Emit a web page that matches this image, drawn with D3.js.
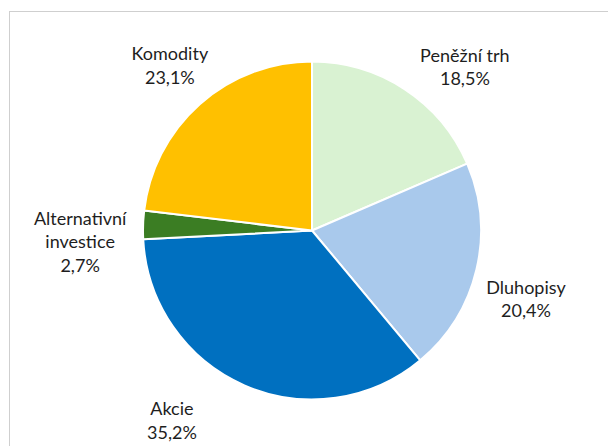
<!DOCTYPE html>
<html lang="cs">
<head>
<meta charset="UTF-8">
<title>Pie</title>
<style>
  body { margin: 0; background: #fff; }
  svg { display: block; }
</style>
</head>
<body>
<script src="https://d3js.org/d3.v7.min.js"></script>
<script>
// Data
let categories = ["Peněžní trh", "Dluhopisy", "Akcie", "Alternativní investice", "Komodity"];
let shares = [18.5, 20.4, 35.2, 2.7, 23.1];
let colors = ["#d9f2d2", "#a9c9ec", "#0070c0", "#3b7d23", "#ffc000"];
// how each label is broken into lines
let labelLines = [["Peněžní trh"], ["Dluhopisy"], ["Akcie"], ["Alternativní", "investice"], ["Komodity"]];

let width = 608, height = 446;
let cx = 312, cy = 230.5, radius = 169;

let svg = d3.select("body").append("svg")
  .attr("width", width)
  .attr("height", height);

// chart frame (cut by the window on right and bottom)
svg.append("rect")
  .attr("x", 9.5).attr("y", 11.5)
  .attr("width", 620).attr("height", 460)
  .attr("fill", "none")
  .attr("stroke", "#cfcfcf")
  .attr("stroke-width", 1);

let data = categories.map((c, i) => ({ name: c, value: shares[i], color: colors[i], lines: labelLines[i] }));

let pie = d3.pie().sort(null).value(d => d.value);
let arc = d3.arc().innerRadius(0).outerRadius(radius);
let labelArc = d3.arc().innerRadius(220).outerRadius(220);

let g = svg.append("g").attr("transform", `translate(${cx},${cy})`);

let arcs = pie(data);

g.selectAll("path")
  .data(arcs)
  .enter()
  .append("path")
  .attr("d", arc)
  .attr("fill", d => d.data.color)
  .attr("stroke", "#fff")
  .attr("stroke-width", 2)
  .attr("stroke-linejoin", "round");

// label nudges from the centroid (Excel "best fit" placement)
let nudge = {
  "Peněžní trh": [32, 21],
  "Dluhopisy": [0, 18],
  "Akcie": [-52, -11],
  "Alternativní investice": [-12, 19],
  "Komodity": [4, 0]
};

let fmt = v => v.toFixed(1).replace(".", ",") + "%";

arcs.forEach(d => {
  let c = labelArc.centroid(d);
  let n = nudge[d.data.name];
  let lines = d.data.lines.concat([fmt(d.data.value)]);
  let lh = 23.5;
  let x = c[0] + n[0];
  let yMid = c[1] + n[1];
  let y0 = yMid - (lines.length - 1) * lh / 2 + 6;
  let t = g.append("text")
    .attr("text-anchor", "middle")
    .attr("font-family", "Lato, 'Open Sans', sans-serif")
    .attr("font-size", "18px")
    .attr("fill", "#1e1e1e");
  lines.forEach((ln, k) => {
    t.append("tspan")
      .attr("x", x)
      .attr("y", y0 + k * lh)
      .text(ln);
  });
});
</script>
</body>
</html>
